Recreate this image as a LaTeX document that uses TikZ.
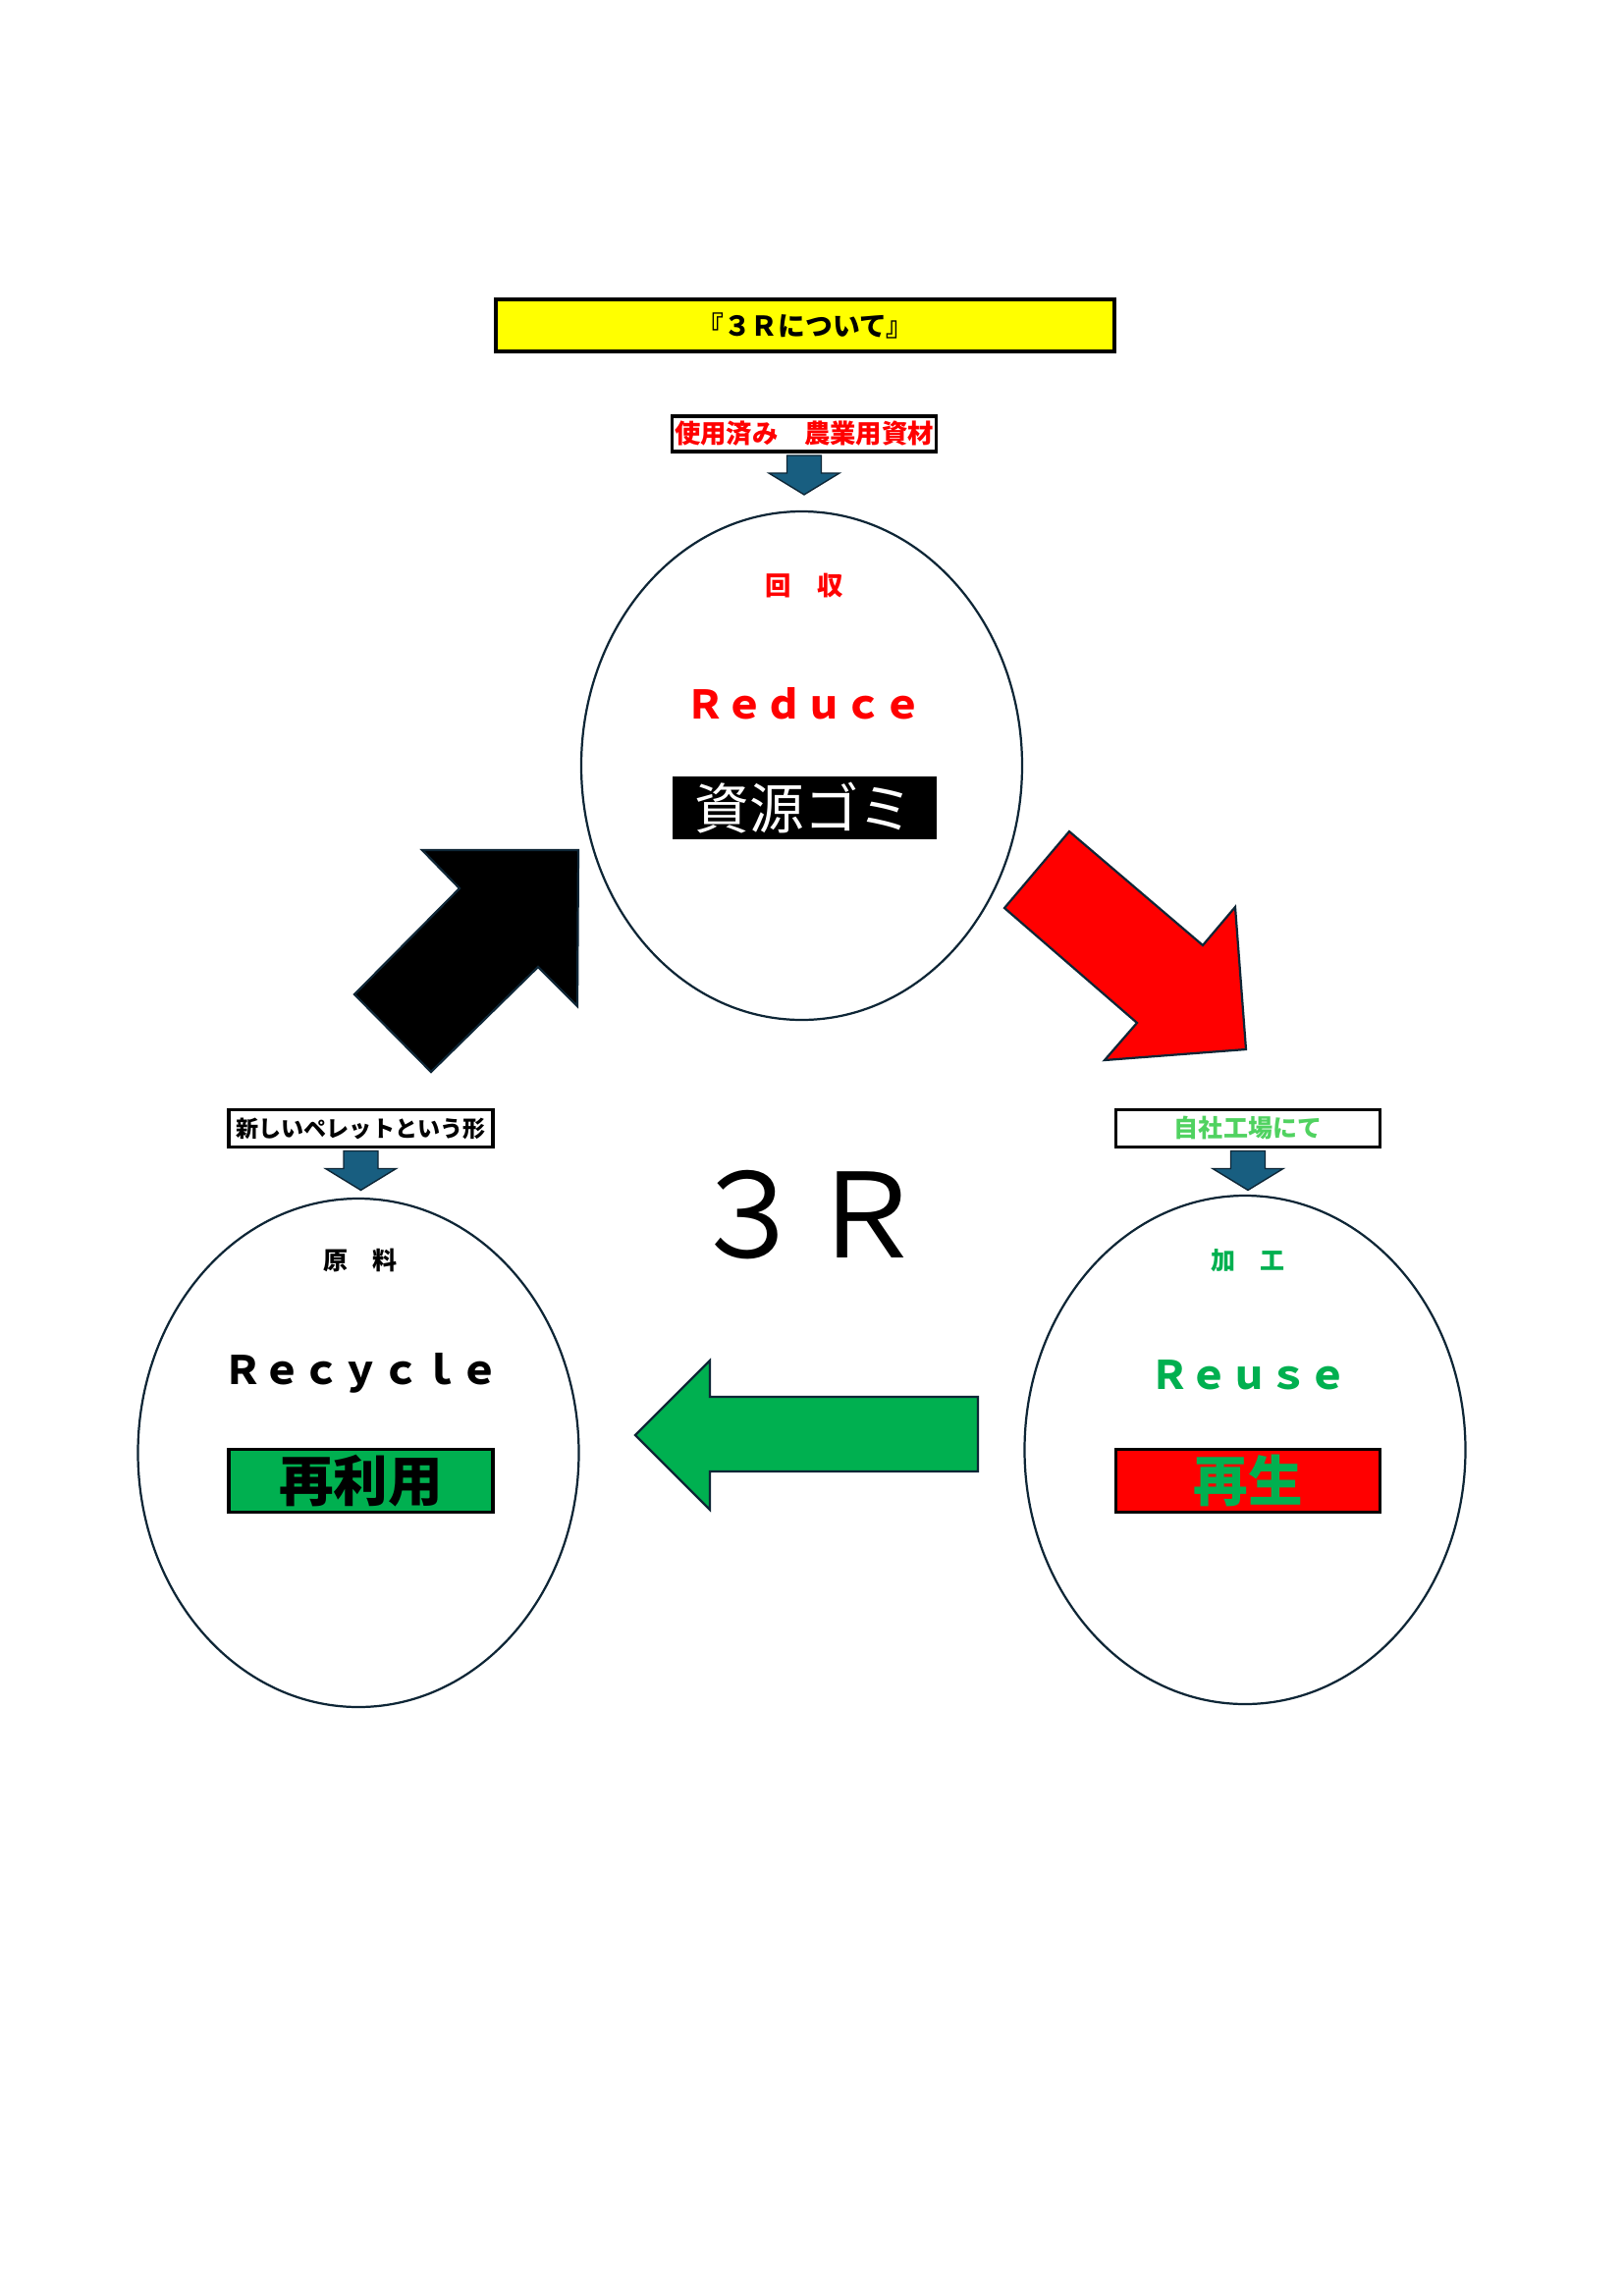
\documentclass[tikz,border=0pt]{standalone}
\usepackage{fontspec}
\setmainfont{Noto Sans CJK JP}
\definecolor{trred}{RGB}{255,0,0}
\definecolor{trgreen}{RGB}{0,176,80}
\definecolor{trlime}{RGB}{80,210,96}
\definecolor{tryellow}{RGB}{255,255,0}
\definecolor{trnavy}{RGB}{14,38,54}
\definecolor{trblue}{RGB}{24,94,128}
\def\trpx{0.3599pt}
\def\trfs#1{\fontsize{#1}{#1}\selectfont}
\def\trDown#1{%
  \begin{scope}[shift={(#1.south)}]
    \draw[trdown] (-17.5,2) -- (17.5,2) -- (17.5,20) -- (36,20)
      -- (0,42) -- (-36,20) -- (-17.5,20) -- cycle;
  \end{scope}}
\def\trRing#1#2#3{%
  \coordinate (#1) at (#2,#3);
  \draw[trring] (#1) ellipse [x radius=224.5, y radius=259];}

\begin{document}
\begin{tikzpicture}[
    x=\trpx, y=-\trpx,
    trring/.style  = {trnavy, line width=0.8pt},
    trbox/.style   = {draw=black, line width=1.4pt, fill=white, inner sep=0pt,
                      minimum width={269*\trpx}, minimum height={38*\trpx}},
    trdown/.style  = {draw=trnavy, fill=trblue, line width=0.5pt},
    trblock/.style = {draw=trnavy, line width=0.8pt, line join=miter},
    trhead/.style  = {font=\trfs{9.5}\bfseries, inner sep=0pt},
    trword/.style  = {font=\trfs{14.4}\bfseries, inner sep=0pt},
    trbig/.style   = {font=\trfs{20}, inner sep=0pt, line width=1.4pt,
                      minimum width={269*\trpx}, minimum height={64*\trpx}}]

  \fill[white] (0,0) rectangle (1654,2339);
  \useasboundingbox (0,0) rectangle (1654,2339);

  %% ---- title ---------------------------------------------------------
  \node[trbox, fill=tryellow, minimum width={630*\trpx},
        minimum height={53*\trpx}, font=\trfs{10}\bfseries]
    (title) at (820,331.5) {『３Ｒについて』};

  %% ---- big arrows ----------------------------------------------------
  \draw[trblock, fill=trred] (1089,847) -- (1023,925) -- (1158,1042)
    -- (1125,1080) -- (1269,1069) -- (1258,924) -- (1225,963) -- cycle;
  \draw[trblock, fill=black] (430,866) -- (468,905) -- (361,1013)
    -- (439,1092) -- (548,985) -- (588,1025) -- (589,866) -- cycle;
  \draw[trblock, fill=trgreen] (647,1462) -- (723,1386) -- (723,1423)
    -- (996,1423) -- (996,1499) -- (723,1499) -- (723,1538) -- cycle;

  %% ---- Reduce (top) --------------------------------------------------
  \node[trbox, text=trred, minimum height={36*\trpx}, font=\trfs{9.5}\bfseries]
    (used) at (819,442) {使用済み　農業用資材};
  \trDown{used}
  \trRing{cReduce}{816.5}{780}
  \node[trhead, text=trred] (collect) at (819,597) {回　収};
  \node[trword, text=trred] (reduce) at (819,717) {Ｒｅｄｕｃｅ};
  \node[trbig, fill=black, text=white] (gomi) at (819,823) {資源ゴミ};

  %% ---- Recycle (left) ------------------------------------------------
  \node[trbox, font=\trfs{8.3}\bfseries]
    (pellet) at (367.5,1149.5) {新しいペレットという形};
  \trDown{pellet}
  \trRing{cRecycle}{365}{1480}
  \node[trhead, font=\trfs{9}\bfseries] (material) at (367,1284) {原　料};
  \node[trword] (recycle) at (368,1399) {Ｒｅｃｙｃｌｅ};
  \node[trbig, draw=black, fill=trgreen, font=\trfs{20}\bfseries]
    (reuseword) at (367.5,1508.5) {再利用};

  %% ---- Reuse (right) -------------------------------------------------
  \node[trbox, text=trlime, font=\trfs{9}\bfseries]
    (factory) at (1271,1149.5) {自社工場にて};
  \trDown{factory}
  \trRing{cReuse}{1268}{1477}
  \node[trhead, text=trgreen, font=\trfs{9}\bfseries] (process) at (1271,1284) {加　工};
  \node[trword, text=trgreen] (reuse) at (1272,1401) {Ｒｅｕｓｅ};
  \node[trbig, draw=black, fill=trred, text=trgreen, font=\trfs{20}\bfseries]
    (regen) at (1271,1508.5) {再生};

  %% ---- centre --------------------------------------------------------
  \node[font=\trfs{43}, inner sep=0pt] (threeR) at (822,1238) {３Ｒ};
\end{tikzpicture}
\end{document}
